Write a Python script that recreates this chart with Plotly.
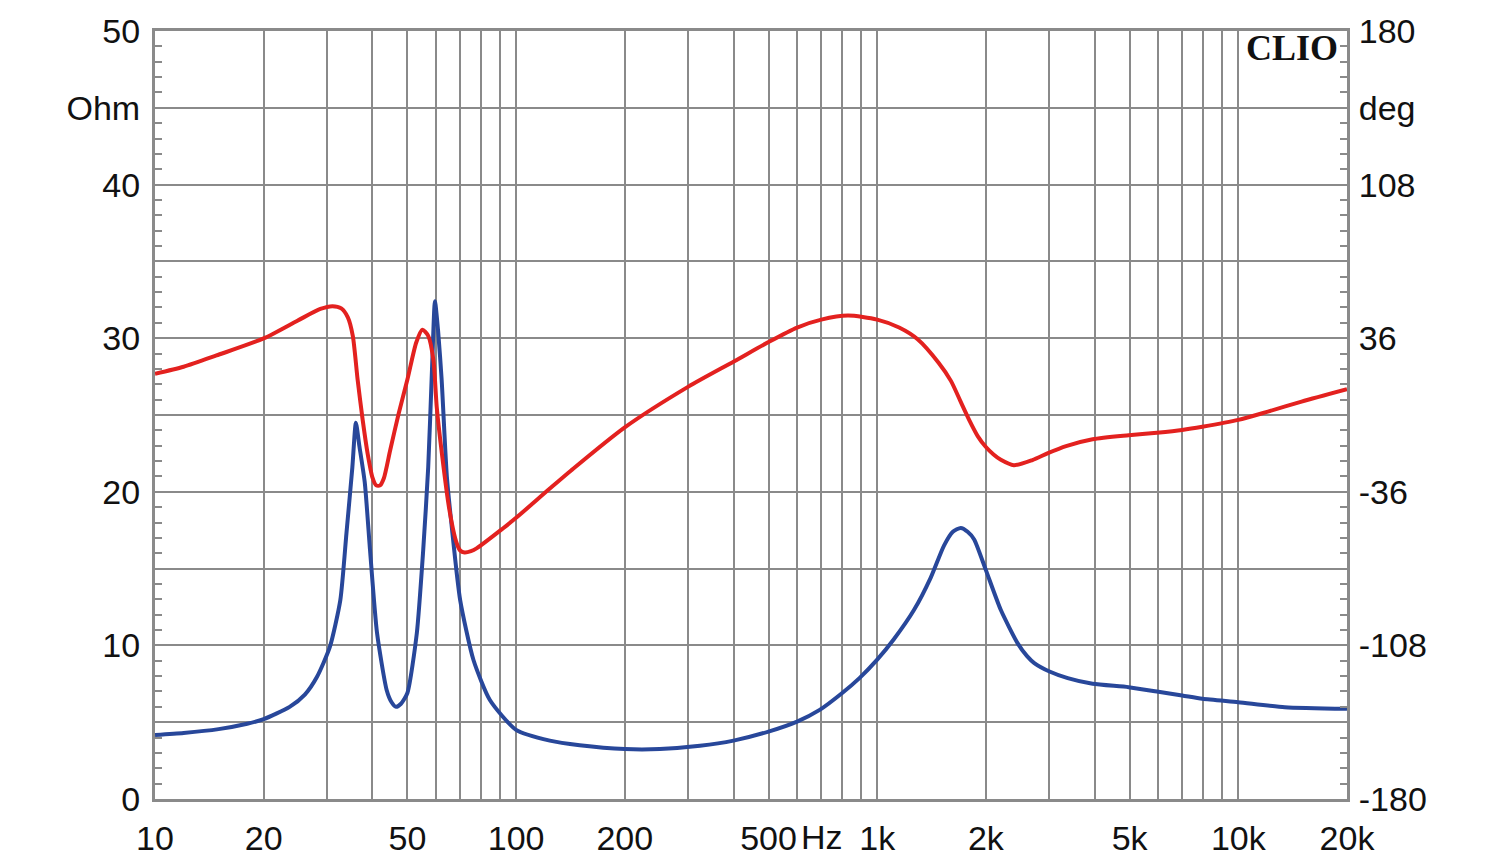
"""Impedance / phase plot (CLIO style) rebuilt with Plotly."""

import math

import plotly.graph_objects as go

# impedance magnitude (blue, left axis, Ohm)
imp_freq = [10, 12, 15, 18, 20, 23.6, 26, 28.1, 30.5, 32.6, 33.9, 35.2, 36.0, 36.8,
            38.1, 39.4, 41.2, 43.8, 45.2, 46.5, 48, 50, 53.1, 55.3, 57.1, 58.5, 59.6, 60.8,
            62.2, 64.3, 66.5, 70, 76.2, 84.6, 100, 124, 150, 200, 250, 323, 400, 500,
            600, 693, 800, 893, 1000, 1112, 1264, 1406, 1531, 1620, 1704, 1780,
            1856, 2000, 2200, 2447, 2600, 2723, 3000, 3370, 3950, 4970, 5950, 6990,
            7950, 10000, 13450, 20000]
imp_ohm = [4.17, 4.3, 4.55, 4.9, 5.2, 6.0, 6.8, 7.96, 9.9, 12.95, 17.3, 21.6, 24.5, 23.0,
           20.6, 16.2, 10.8, 7.1, 6.3, 6.0, 6.2, 6.9, 10.8, 16.2, 21.6, 28.0, 32.4, 30.5,
           27.3, 21.0, 17.5, 12.95, 9.05, 6.45, 4.5, 3.8, 3.5, 3.25, 3.25, 3.46, 3.8, 4.39,
           5.04, 5.8, 6.9, 7.87, 9.07, 10.4, 12.3, 14.4, 16.5, 17.4, 17.65, 17.4,
           16.9, 14.9, 12.3, 10.15, 9.3, 8.85, 8.3, 7.87, 7.5, 7.28, 7.0, 6.74,
           6.52, 6.3, 5.98, 5.87]

# phase (red, right axis, deg)
ph_freq = [10, 12, 14.8, 20, 24.8, 28.7, 31.0, 32.8, 34.2, 35.3, 36.4, 37.6, 38.8,
           40.0, 41.0, 42.0, 43.0, 44.8, 47.3, 50.0, 52.9, 55.0, 57.1, 59.0, 60.3, 62.3,
           65.2, 68.2, 70.0, 72.0, 75.0, 77.9, 91.9, 100, 124, 142, 200, 300, 402, 500, 600,
           700, 830, 1000, 1150, 1294, 1479, 1600, 1700, 1800, 1900, 2000, 2100, 2200,
           2390, 2690, 2960, 3335, 3950, 4970, 5950, 6990, 7950, 10000, 12080, 14970, 20000]
ph_deg = [19.3, 22.6, 27.9, 35.9, 44.2, 49.7, 51.0, 50.0, 45.8, 37.1, 16.6, -2.4, -18.1,
          -29.2, -33.0, -33.0, -29.8, -16.5, 0.7, 16.6, 34.0, 40.0, 37.1, 26.0, 3.6, -18.1,
          -43.4, -59.2, -63.5, -64.4, -63.8, -62.4, -53.2, -48.2, -34.5, -26.0, -5.8, 13.3, 25.2,
          34.2, 41.0, 44.7, 46.6, 44.7, 41.0, 35.5, 24.5, 16.0, 6.5, -2.5, -10.0, -15.0, -18.5,
          -21.0, -23.5, -21.1, -18.0, -14.6, -11.4, -9.5, -8.3, -7.0, -5.5, -2.3, 1.6, 6.3, 12.1]

# axis ticks / grid
x_grid = [m * 10 ** d for d in range(1, 5) for m in range(1, 10) if m * 10 ** d <= 20000]
x_labels = {10: "10", 20: "20", 50: "50", 100: "100", 200: "200", 500: "500",
            1000: "1k", 2000: "2k", 5000: "5k", 10000: "10k", 20000: "20k"}
y_vals = list(range(0, 51, 5))
y_text = ["0", "", "10", "", "20", "", "30", "", "40", "Ohm", "50"]
y2_vals = [-180 + 36 * i for i in range(11)]
y2_text = ["-180", "", "-108", "", "-36", "", "36", "", "108", "deg", "180"]

GRID = "#8a8a8a"
FONT = dict(family="Liberation Sans, Arial, sans-serif", size=34, color="#111111")

fig = go.Figure()
fig.add_trace(go.Scatter(
    x=ph_freq, y=ph_deg, yaxis="y2", mode="lines",
    line=dict(color="#e3211f", width=4, shape="spline", smoothing=0.7),
    showlegend=False, hoverinfo="skip",
))
fig.add_trace(go.Scatter(
    x=imp_freq, y=imp_ohm, mode="lines",
    line=dict(color="#28479a", width=4, shape="spline", smoothing=0.6),
    showlegend=False, hoverinfo="skip",
))

# page body keeps an 8 px margin, so the figure is sized to fit inside it
fig.update_layout(
    width=1484, height=848,
    margin=dict(l=147, r=145, t=23, b=57),
    paper_bgcolor="white", plot_bgcolor="white",
    font=FONT,
    xaxis=dict(
        type="log", range=[1, math.log10(20000)], automargin=False,
        tickmode="array", tickvals=x_grid,
        ticktext=[x_labels.get(v, "") for v in x_grid],
        showgrid=True, gridcolor=GRID, gridwidth=1.6,
        showline=True, linecolor=GRID, linewidth=3, mirror=True,
        ticks="", ticklabelstandoff=7, zeroline=False,
    ),
    yaxis=dict(
        range=[0, 50], tickmode="array", tickvals=y_vals, ticktext=y_text,
        automargin=False,
        showgrid=True, gridcolor=GRID, gridwidth=1.6,
        showline=True, linecolor=GRID, linewidth=3, mirror=False,
        ticks="inside", ticklen=7, tickcolor=GRID, tickwidth=1.5,
        minor=dict(tickmode="array", tickvals=list(range(0, 51)),
                   ticks="inside", ticklen=7, tickcolor=GRID, tickwidth=1.5),
        ticklabelstandoff=5, zeroline=False,
    ),
    yaxis2=dict(
        range=[-180, 180], overlaying="y", side="right", automargin=False,
        tickmode="array", tickvals=y2_vals, ticktext=y2_text,
        showgrid=False, showline=True, linecolor=GRID, linewidth=3,
        ticks="inside", ticklen=7, tickcolor=GRID, tickwidth=1.5,
        minor=dict(tickmode="array", tickvals=[-180 + 7.2 * i for i in range(51)],
                   ticks="inside", ticklen=7, tickcolor=GRID, tickwidth=1.5),
        ticklabelstandoff=2, zeroline=False,
    ),
    annotations=[
        dict(text="Hz", x=math.log10(705), xref="x", y=-0.05, yref="paper",
             yanchor="middle", xanchor="center", showarrow=False, font=FONT),
        dict(text="<b>CLIO</b>", x=0.9941, xref="paper", y=0.978, yref="paper",
             xanchor="right", yanchor="middle", showarrow=False,
             font=dict(family="Liberation Serif, Times New Roman, serif", size=36, color="#111111")),
    ],
)

fig.write_html("out.html")
